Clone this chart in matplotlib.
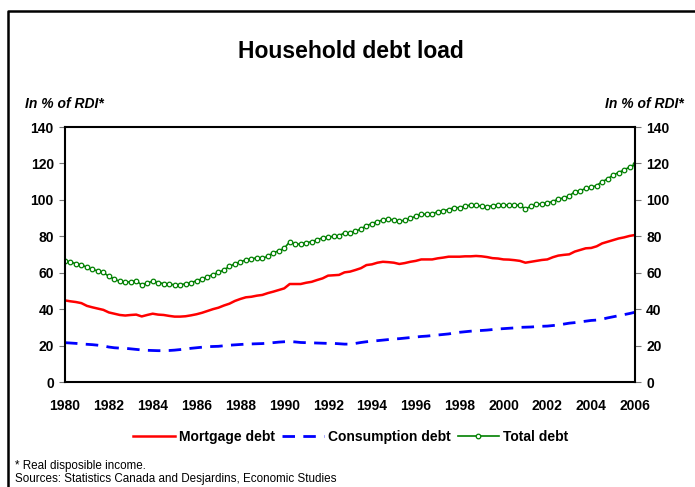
import matplotlib.pyplot as plt
from matplotlib.lines import Line2D
import numpy as np

plt.rcParams['font.family'] = ['Liberation Sans', 'DejaVu Sans']

start_year = 1980

# quarterly values, 1980Q1 to 2006Q1, in % of RDI
total_debt = [
    66.5, 65.8, 65.0, 64.3, 63.0, 61.8, 61.0, 60.2, 58.0, 56.5, 55.2, 54.8,
    55.0, 55.6, 53.2, 54.5, 55.2, 54.6, 54.0, 53.8, 53.3, 53.5, 53.8, 54.5,
    55.6, 56.5, 57.8, 59.0, 60.2, 61.5, 63.5, 64.8, 66.0, 67.0, 67.5, 68.2,
    67.9, 69.0, 71.0, 72.0, 73.4, 77.0, 75.6, 75.8, 76.5, 77.0, 78.0, 79.2,
    79.5, 80.0, 80.2, 82.0, 81.8, 82.8, 84.0, 85.8, 87.0, 88.0, 89.0, 89.3,
    89.0, 88.3, 88.8, 89.8, 91.0, 92.2, 92.0, 92.2, 93.5, 94.0, 94.7, 95.7,
    95.7, 96.5, 97.2, 97.0, 96.5, 96.2, 96.8, 97.2, 97.0, 97.2, 97.2, 97.0,
    95.0, 96.5, 97.5, 97.8, 98.4, 99.0, 100.5, 101.0, 102.1, 104.5, 105.0, 106.3,
    107.0, 107.8, 110.0, 111.5, 113.6, 115.0, 116.4, 118.0, 119.5]

mortgage_debt = [
    44.8, 44.3, 43.9, 43.3, 41.8, 41.0, 40.3, 39.6, 38.2, 37.5, 36.8, 36.5,
    36.8, 37.0, 36.0, 36.8, 37.5, 37.0, 36.8, 36.3, 35.9, 35.9, 36.1, 36.6,
    37.2, 38.0, 39.0, 40.0, 40.8, 42.0, 43.0, 44.5, 45.6, 46.5, 46.8, 47.4,
    47.8, 48.8, 49.6, 50.5, 51.4, 53.8, 53.8, 53.8, 54.5, 55.0, 56.0, 56.9,
    58.4, 58.6, 58.8, 60.2, 60.6, 61.5, 62.5, 64.2, 64.6, 65.5, 66.0, 65.8,
    65.5, 64.8, 65.3, 66.0, 66.5, 67.3, 67.3, 67.3, 67.9, 68.3, 68.8, 68.8,
    68.8, 69.0, 69.0, 69.2, 69.0, 68.6, 68.0, 67.8, 67.3, 67.2, 66.9, 66.5,
    65.5, 66.0, 66.5, 67.0, 67.3, 68.5, 69.4, 69.8, 70.1, 71.6, 72.5, 73.4,
    73.6, 74.5, 76.1, 77.0, 77.9, 78.8, 79.4, 80.2, 80.7]

consumption_debt = [
    21.6, 21.4, 21.2, 20.9, 20.7, 20.5, 20.2, 19.8, 19.2, 18.8, 18.6, 18.5,
    18.2, 17.9, 17.6, 17.4, 17.3, 17.2, 17.2, 17.3, 17.5, 17.8, 18.1, 18.5,
    18.8, 19.1, 19.4, 19.5, 19.6, 19.9, 20.2, 20.4, 20.6, 20.8, 20.9, 21.0,
    21.1, 21.3, 21.6, 21.9, 22.1, 22.2, 22.0, 21.7, 21.6, 21.5, 21.4, 21.3,
    21.2, 21.2, 21.0, 20.8, 20.8, 21.2, 21.7, 22.1, 22.4, 22.7, 23.0, 23.3,
    23.6, 23.8, 24.1, 24.4, 24.7, 25.0, 25.2, 25.5, 25.8, 26.1, 26.4, 26.9,
    27.3, 27.6, 27.9, 28.1, 28.3, 28.5, 28.8, 29.1, 29.3, 29.5, 29.7, 30.0,
    30.1, 30.2, 30.4, 30.6, 30.7, 31.0, 31.3, 31.8, 32.3, 32.6, 33.0, 33.4,
    33.8, 34.0, 34.5, 35.2, 35.8, 36.4, 37.0, 37.6, 38.3]

year_ticks = list(range(1980, 2007, 2))
value_ticks = list(range(0, 141, 20))

t = start_year + np.arange(len(total_debt)) / 4.0

fig = plt.figure(figsize=(6.95, 4.87), dpi=100)
ax = fig.add_axes([0.0935, 0.2156, 0.8202, 0.5236])

ax.plot(t, mortgage_debt, color='#ff0000', lw=1.8, label='Mortgage debt')
ax.plot(t, consumption_debt, color='#0000ff', lw=2.0, dashes=(4.5, 3),
        label='Consumption debt')
ax.plot(t, total_debt, color='#008000', lw=1.2, marker='o', ms=3.3,
        mfc='white', mec='#008000', mew=0.9, label='Total debt')

ax.set_xlim(1980, 2006)
ax.set_ylim(0, 140)
ax.set_xticks(year_ticks)
ax.set_yticks(value_ticks)
ax.tick_params(axis='x', length=0, pad=12, labelsize=10)
ax.tick_params(axis='y', direction='out', length=4, width=0.8, color='#777777',
               left=True, right=True, labelleft=True, labelright=True,
               labelsize=10, pad=4)
for lab in ax.get_xticklabels() + ax.get_yticklabels():
    lab.set_fontweight('bold')
for lab in ax.yaxis.get_ticklabels(which='both'):
    lab.set_fontweight('bold')
for side in ['left', 'right', 'bottom', 'top']:
    ax.spines[side].set_color('black')
    ax.spines[side].set_linewidth(1.5)

fig.text(0.505, 0.895, 'Household debt load', ha='center', va='center',
         fontsize=16.5, fontweight='bold')
fig.text(0.036, 0.786, 'In % of RDI*', ha='left', va='center', fontsize=10,
         fontweight='bold', style='italic')
fig.text(0.984, 0.786, 'In % of RDI*', ha='right', va='center', fontsize=10,
         fontweight='bold', style='italic')

leg = fig.legend(loc='center', bbox_to_anchor=(0.505, 0.103), ncol=3,
                 frameon=False, handlelength=3.0, handletextpad=0.3,
                 columnspacing=0.5, prop={'weight': 'bold', 'size': 10})

fig.text(0.021, 0.043, '* Real disposible income.', fontsize=8.4, va='center')
fig.text(0.021, 0.016, 'Sources: Statistics Canada and Desjardins, Economic Studies',
         fontsize=8.4, va='center')

# outer frame (top and left edges)
fig.add_artist(Line2D([0.011, 0.011, 1.0], [0.0, 0.977, 0.977],
                      color='black', lw=1.8, transform=fig.transFigure))

fig.savefig('out.png', dpi=100)
